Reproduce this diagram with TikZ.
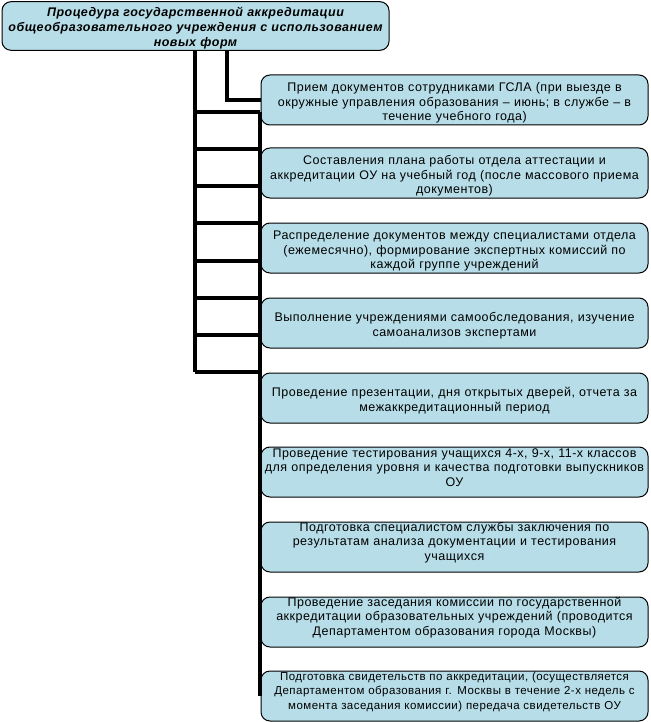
\documentclass[tikz,border=0pt]{standalone}
\usepackage{fontspec}
\setmainfont[LetterSpace=4]{Liberation Sans}
\usetikzlibrary{positioning}
\definecolor{boxblue}{RGB}{183,222,232}
\tikzset{
  stagebox/.style={draw, fill=boxblue, rounded corners=9pt, line width=1pt,
    minimum width=387pt, minimum height=50pt, text width=384pt, align=center,
    inner sep=1.5pt, text height=15pt, font=\fontsize{12.5}{14.5}\selectfont},
  titlebox/.style={stagebox, minimum height=48pt, text height=13pt,
    font=\fontsize{12.5}{15}\selectfont\bfseries\itshape},
  raised/.style={text height=0pt},
  link/.style={line width=4pt}
}
\begin{document}
\begin{tikzpicture}[x=1pt, y=-1pt]
  \useasboundingbox (0,0) rectangle (650,722);

  % title
  \node[titlebox] (title) at (195.5,26) {Процедура государственной аккредитации\\
    общеобразовательного учреждения с использованием\\ новых форм};

  % stages
  \node[stagebox] (s1) at (454.5,100) {Прием документов сотрудниками ГСЛА (при выезде в\\
    окружные управления образования – июнь; в службе – в\\ течение учебного года)};
  \node[stagebox] (s2) at (454.5,173) {Составления плана работы отдела аттестации и\\
    аккредитации ОУ на учебный год (после массового приема\\ документов)};
  \node[stagebox] (s3) at (454.5,248) {Распределение документов между специалистами отдела\\
    (ежемесячно), формирование экспертных комиссий по\\ каждой группе учреждений};
  \node[stagebox] (s4) at (454.5,323) {Выполнение учреждениями самообследования, изучение\\
    самоанализов экспертами};
  \node[stagebox] (s5) at (454.5,398) {Проведение презентации, дня открытых дверей, отчета за\\
    межаккредитационный период};
  \node[stagebox, raised] (s6) at (454.5,472) {Проведение тестирования учащихся 4-х, 9-х, 11-х классов\\
    для определения уровня и качества подготовки выпускников\\ ОУ};
  \node[stagebox, raised] (s7) at (454.5,547) {Подготовка специалистом службы заключения по\\
    результатам анализа документации и тестирования\\ учащихся};
  \node[stagebox, raised] (s8) at (454.5,622) {Проведение заседания комиссии по государственной\\
    аккредитации образовательных учреждений (проводится\\ Департаментом образования города Москвы)};
  \node[stagebox, raised, font=\fontsize{11.5}{14.5}\selectfont] (s9) at (454.5,696)
    {Подготовка свидетельств по аккредитации, (осуществляется\\
    Департаментом образования г. Москвы в течение 2-х недель с\\ момента заседания комиссии) передача свидетельств ОУ};

  % ladder
  \coordinate (elbow) at (227,100);
  \coordinate (ltop) at (195,50);
  \coordinate (lbot) at (195,372);
  \coordinate (rtop) at (260,112);
  \draw[link] (title.south -| elbow) -- (elbow) -- (s1.west);
  \draw[link] (title.south -| ltop) -- (lbot);
  \draw[link] (rtop) -- (rtop |- s9.west);
  \foreach \y in {112,149,186,223,261,298,335,372}
    \draw[link] (195,\y) -- (260,\y);
\end{tikzpicture}
\end{document}
